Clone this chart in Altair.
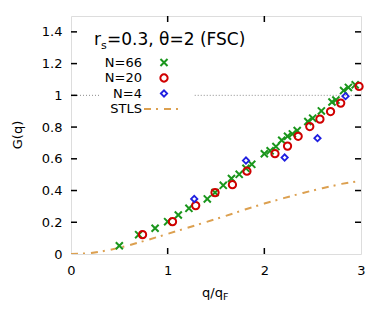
import altair as alt
import pandas as pd

# ---- data ----
q66 = [0.50, 0.70, 0.87, 1.00, 1.11, 1.22, 1.41, 1.49, 1.575, 1.66, 1.74, 1.81, 1.87,
       2.00, 2.06, 2.12, 2.18, 2.24, 2.29, 2.34, 2.45, 2.50, 2.59, 2.70, 2.74, 2.82,
       2.87, 2.94]
g66 = [0.052, 0.122, 0.162, 0.204, 0.246, 0.288, 0.347, 0.387, 0.433, 0.476, 0.502,
       0.540, 0.565, 0.632, 0.650, 0.677, 0.717, 0.742, 0.757, 0.778, 0.835, 0.856,
       0.902, 0.958, 0.970, 1.030, 1.050, 1.066]

q20 = [0.74, 1.05, 1.29, 1.49, 1.67, 1.82, 2.11, 2.24, 2.35, 2.47, 2.575, 2.685, 2.79, 2.98]
g20 = [0.122, 0.204, 0.305, 0.387, 0.437, 0.522, 0.632, 0.680, 0.742, 0.803, 0.850,
       0.898, 0.951, 1.056]

q4 = [1.275, 1.81, 2.21, 2.55, 2.84]
g4 = [0.347, 0.589, 0.608, 0.730, 0.995]

stls_q = [0.0, 0.2, 0.4, 0.6, 0.8, 1.0, 1.2, 1.4, 1.6, 1.8, 2.0, 2.2, 2.4, 2.6, 2.8, 3.0]
stls_g = [0.0, 0.005, 0.025, 0.055, 0.090, 0.127, 0.164, 0.202, 0.240, 0.280, 0.318,
          0.352, 0.385, 0.415, 0.442, 0.462]

ref_start = [0.0, 1.28]
ref_end = [0.30, 3.0]
ref_level = [1.0, 1.0]

x_tick_values = [0, 1, 2, 3]
y_tick_values = [0, 0.2, 0.4, 0.6, 0.8, 1.0, 1.2, 1.4]
x_inner_ticks = [1, 2]
y_inner_ticks = [0.2, 0.4, 0.6, 0.8, 1.0, 1.2, 1.4]

legend_labels = ["N=66", "N=20", "N=4", "STLS"]
title_parts = ["r", "s", "=0.3, θ=2 (FSC)"]
xlabel_parts = ["q/q", "F"]
ylabel = "G(q)"

GREEN = "#1a961c"
RED = "#d00000"
BLUE = "#1f1fe0"
ORANGE = "#dca050"
FONT = "DejaVu Sans"

W, H = 290, 238
xs = alt.Scale(domain=[0, 3], nice=False, zero=False)
ys = alt.Scale(domain=[0, 1.5], nice=False, zero=False)

x_enc = alt.X("q:Q", scale=xs, title="",
              axis=alt.Axis(values=x_tick_values, ticks=False, tickSize=0, domain=False,
                            grid=False, labelPadding=10, labelFontSize=13, labelFont=FONT,
                            labelColor="black", format="~g", labelFlush=False))
y_enc = alt.Y("G:Q", scale=ys, title="",
              axis=alt.Axis(values=y_tick_values, ticks=False, tickSize=0, domain=False,
                            grid=False, labelPadding=9, labelFontSize=13, labelFont=FONT,
                            labelColor="black", format="~g", labelFlush=False))

df66 = pd.DataFrame({"q": q66, "G": g66})
df20 = pd.DataFrame({"q": q20, "G": g20})
df4 = pd.DataFrame({"q": q4, "G": g4})
dfs = pd.DataFrame({"q": stls_q, "G": stls_g})
dfref = pd.DataFrame({"q": ref_start, "q2": ref_end, "G": ref_level})

XSHAPE = "M-1,-1L1,1M1,-1L-1,1"

ref = alt.Chart(dfref).mark_rule(color="#8c8c8c", strokeWidth=1, strokeDash=[1, 2]).encode(
    x=x_enc, x2="q2:Q", y=y_enc)

stls = alt.Chart(dfs).mark_line(color=ORANGE, strokeWidth=2,
                                strokeDash=[7, 5, 2, 6], clip=True).encode(x=x_enc, y=y_enc)

p66 = alt.Chart(df66).mark_point(shape=XSHAPE, filled=False, color=GREEN, size=50,
                                 strokeWidth=2, opacity=1).encode(x=x_enc, y=y_enc)
p20 = alt.Chart(df20).mark_point(shape="circle", filled=False, color=RED, size=53,
                                 strokeWidth=2, opacity=1).encode(x=x_enc, y=y_enc)
p4 = alt.Chart(df4).mark_point(shape="diamond", filled=False, color=BLUE, size=40,
                               strokeWidth=1.8, opacity=1).encode(x=x_enc, y=y_enc)

# inward ticks on all four sides
dfyt = pd.DataFrame({"G": y_inner_ticks})
dfxt = pd.DataFrame({"q": x_inner_ticks})
tick_l = alt.Chart(dfyt).mark_rule(color="black", strokeWidth=1.5).encode(
    y=y_enc, x=alt.value(0), x2=alt.value(6))
tick_r = alt.Chart(dfyt).mark_rule(color="black", strokeWidth=1.5).encode(
    y=y_enc, x=alt.value(W - 6), x2=alt.value(W))
tick_b = alt.Chart(dfxt).mark_rule(color="black", strokeWidth=1.5).encode(
    x=x_enc, y=alt.value(H - 6), y2=alt.value(H))
tick_t = alt.Chart(dfxt).mark_rule(color="black", strokeWidth=1.5).encode(
    x=x_enc, y=alt.value(0), y2=alt.value(6))

layers = [ref, stls, p66, p20, p4, tick_l, tick_r, tick_b, tick_t]

# title with subscript
title_df = pd.DataFrame({"t": title_parts})
tx = [23, 30, 36]
ty = [29, 33, 29]
tsz = [17, 11, 17]
for i, part in enumerate(title_parts):
    layers.append(
        alt.Chart(pd.DataFrame({"t": [part]})).mark_text(
            align="left", baseline="alphabetic", font=FONT, fontSize=tsz[i], color="black"
        ).encode(x=alt.value(tx[i]), y=alt.value(ty[i]), text="t:N"))

# legend
rows_y = [46.5, 62, 77.5, 93]
for i, lab in enumerate(legend_labels):
    layers.append(
        alt.Chart(pd.DataFrame({"t": [lab]})).mark_text(
            align="right", baseline="middle", font=FONT, fontSize=13, color="black"
        ).encode(x=alt.value(71), y=alt.value(rows_y[i]), text="t:N"))

leg_sym = [(XSHAPE, GREEN, 50, 2), ("circle", RED, 53, 2), ("diamond", BLUE, 40, 1.8)]
for i, (shp, col, sz, sw) in enumerate(leg_sym):
    layers.append(
        alt.Chart(pd.DataFrame({"t": [legend_labels[i]]})).mark_point(
            shape=shp, filled=False, color=col, size=sz, strokeWidth=sw, opacity=1
        ).encode(x=alt.value(93), y=alt.value(rows_y[i])))
layers.append(
    alt.Chart(pd.DataFrame({"t": [legend_labels[3]]})).mark_rule(
        color=ORANGE, strokeWidth=2, strokeDash=[7, 5, 2, 6]
    ).encode(x=alt.value(73), x2=alt.value(110), y=alt.value(rows_y[3])))

# axis titles
layers.append(
    alt.Chart(pd.DataFrame({"t": [ylabel]})).mark_text(
        align="center", baseline="middle", font=FONT, fontSize=13, color="black", angle=270
    ).encode(x=alt.value(-53), y=alt.value(H / 2), text="t:N"))
xl_x = [131, 152]
xl_y = [281, 284]
xl_sz = [13, 9.5]
for i, part in enumerate(xlabel_parts):
    layers.append(
        alt.Chart(pd.DataFrame({"t": [part]})).mark_text(
            align="left", baseline="alphabetic", font=FONT, fontSize=xl_sz[i], color="black"
        ).encode(x=alt.value(xl_x[i]), y=alt.value(xl_y[i]), text="t:N"))

chart = alt.layer(*layers).properties(
    width=W, height=H,
    autosize=alt.AutoSizeParams(type="none"),
    padding={"left": 63, "top": 8, "right": 17, "bottom": 58},
).configure_view(stroke="black", strokeWidth=2).configure(background="white")

chart.save("out.html", embed_options={"renderer": "svg", "actions": False})
